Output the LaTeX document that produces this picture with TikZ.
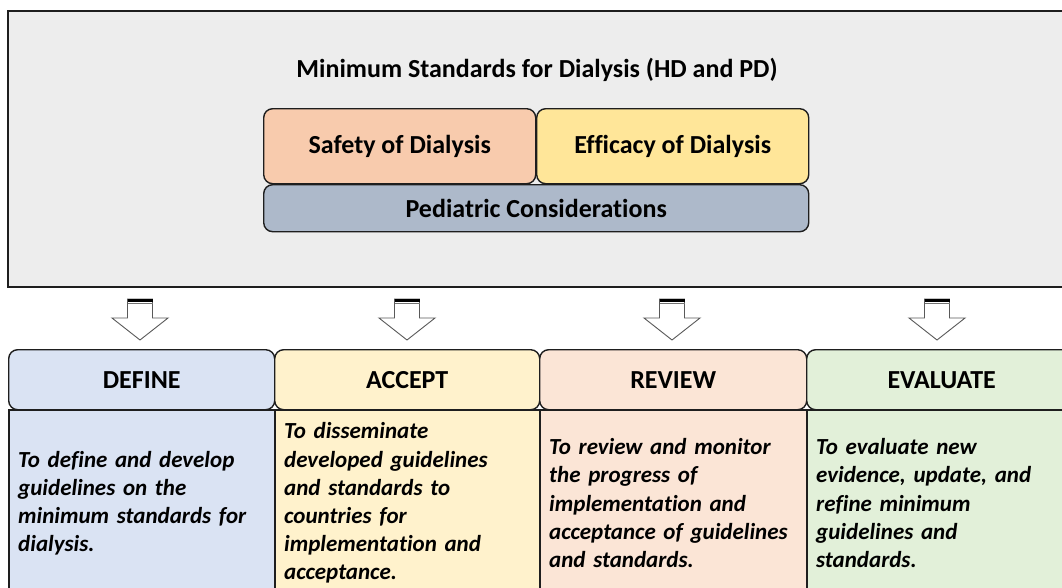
\documentclass[tikz,border=0pt]{standalone}
\usepackage{fontspec}
\setmainfont{Carlito}[Ligatures=CommonOff]
\definecolor{topgray}{HTML}{EDEDED}
\definecolor{safety}{HTML}{F8CBAD}
\definecolor{efficacy}{HTML}{FFE699}
\definecolor{pedia}{HTML}{ADB9CA}
\definecolor{cdefine}{HTML}{DAE3F3}
\definecolor{caccept}{HTML}{FFF2CC}
\definecolor{creview}{HTML}{FBE5D6}
\definecolor{ceval}{HTML}{E2F0D9}
\definecolor{edge}{HTML}{1E1E1E}
\tikzset{
  inbox/.style={draw=edge, line width=1.4pt, rounded corners=9pt, anchor=north west,
    font=\fontsize{26}{30}\selectfont\bfseries, inner sep=0pt, align=center},
  headbox/.style={draw=edge, line width=1.4pt, rounded corners=9pt, anchor=north west,
    minimum height=60pt, inner sep=0pt, font=\fontsize{26}{30}\selectfont\bfseries},
  bodybox/.style={draw=edge, line width=2.4pt, anchor=north west, minimum height=186pt,
    inner xsep=9pt, inner ysep=0pt, align=left,
    font=\fontsize{23}{28.2}\selectfont\bfseries\itshape},
  blockarrow/.style={draw=black!65, line width=0.9pt, fill=white, line join=miter},
}
\begin{document}
\begin{tikzpicture}[x=1pt,y=-1pt]
\useasboundingbox (0,0) rectangle (1062,587);
\clip (0,0) rectangle (1062,587);
% top panel
\node[draw=edge, line width=2pt, fill=topgray, anchor=north west, minimum width=1080pt,
  minimum height=276pt, inner sep=0pt] (panel) at (7,10) {};
\node[font=\fontsize{26}{30}\selectfont\bfseries, inner sep=0pt] (title) at (537,70)
  {Minimum Standards for Dialysis (HD and PD)};
\node[inbox, fill=safety, minimum width=272pt, minimum height=75pt] (safety) at (263,108)
  {Safety of Dialysis};
\node[inbox, fill=efficacy, minimum width=272pt, minimum height=75pt] (efficacy) at (536,108)
  {Efficacy of Dialysis};
\node[inbox, fill=pedia, minimum width=545pt, minimum height=47pt] (pedia) at (263,184)
  {Pediatric Considerations};
% headers
\node[headbox, fill=cdefine, minimum width=266pt] (hdefine) at (8,349) {DEFINE};
\node[headbox, fill=caccept, minimum width=265pt] (haccept) at (274,349) {ACCEPT};
\node[headbox, fill=creview, minimum width=267pt] (hreview) at (539,349) {REVIEW};
\node[headbox, fill=ceval, minimum width=270pt] (heval) at (806,349) {EVALUATE};
% bodies
\node[bodybox, fill=cdefine, text width=248pt] (bdefine) at (8,409)
  {To define and develop\\guidelines on the\\minimum standards for\\dialysis.};
\node[bodybox, fill=caccept, text width=247pt] (baccept) at (274,409)
  {To disseminate\\developed guidelines\\and standards to\\countries for\\implementation and\\acceptance.};
\node[bodybox, fill=creview, text width=249pt] (breview) at (539,409)
  {To review and monitor\\the progress of\\implementation and\\acceptance of guidelines\\and standards.};
\node[bodybox, fill=ceval, text width=252pt] (beval) at (806,409)
  {To evaluate new\\evidence, update, and\\refine minimum\\guidelines and\\standards.};
% block arrows
\foreach \cx/\nm in {140/a1,407/a2,672/a3,937/a4}{
  \coordinate (\nm) at (\cx,299);
  \draw[blockarrow] (\cx-12.5,299) -- (\cx+12.5,299) -- (\cx+12.5,318) -- (\cx+28,318)
    -- (\cx,340) -- (\cx-28,318) -- (\cx-12.5,318) -- cycle;
  \draw[black, line width=2.2pt] (\cx-12.5,300.5) -- (\cx+12.5,300.5);
  \draw[black!55, line width=0.8pt] (\cx-12.5,303.5) -- (\cx+12.5,303.5);
}
\end{tikzpicture}
\end{document}
